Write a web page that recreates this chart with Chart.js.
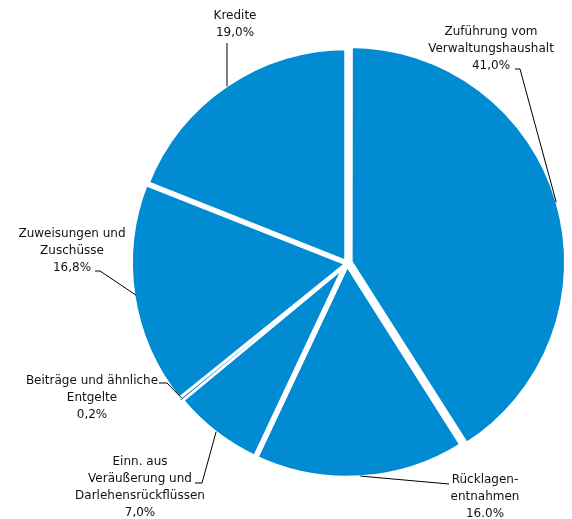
<!DOCTYPE html>
<html>
<head>
<meta charset="utf-8">
<script src="https://cdn.jsdelivr.net/npm/chart.js@4/dist/chart.umd.min.js"></script>
<style>
  html, body { margin: 0; padding: 0; background: #fff; }
  canvas { display: block; }
</style>
</head>
<body>
<canvas id="pie" width="572" height="519"></canvas>
<script>
// data, clockwise from 12 o'clock
const categories = [
  'Zuführung vom Verwaltungshaushalt',
  'Rücklagenentnahmen',
  'Einn. aus Veräußerung und Darlehensrückflüssen',
  'Beiträge und ähnliche Entgelte',
  'Zuweisungen und Zuschüsse',
  'Kredite'
];
const shares = [41.0, 16.0, 7.0, 0.2, 16.8, 19.0];
const shareTexts = ['41,0%', '16.0%', '7,0%', '0,2%', '16,8%', '19,0%'];
const labelLines = [
  ['Zuführung vom', 'Verwaltungshaushalt'],
  ['Rücklagen-', 'entnahmen'],
  ['Einn. aus', 'Veräußerung und', 'Darlehensrückflüssen'],
  ['Beiträge und ähnliche', 'Entgelte'],
  ['Zuweisungen und', 'Zuschüsse'],
  ['Kredite']
];

const BLUE = '#008BD2';
const TEXT = '#111111';

// where each label sits, and the bend of its leader line (label side first)
const labelLayout = [
  { x: 491, y: 32, path: [[515, 69], [520, 69]] },
  { x: 485, y: 480, path: [[449, 484]] },
  { x: 140, y: 462, path: [[195, 483], [202, 483]] },
  { x: 92, y: 381, path: [[159, 383], [167, 383]] },
  { x: 72, y: 233.5, path: [[95, 271], [100, 271]] },
  { x: 235, y: 16, path: [[227, 43]] }
];

const outsideLabels = {
  id: 'outsideLabels',
  afterDatasetsDraw(chart) {
    const ctx = chart.ctx;
    const meta = chart.getDatasetMeta(0);
    ctx.save();
    meta.data.forEach((arc, i) => {
      const lay = labelLayout[i];
      if (!lay) return;
      const { x, y, startAngle, endAngle, outerRadius, circumference } =
        arc.getProps(['x', 'y', 'startAngle', 'endAngle', 'outerRadius', 'circumference'], true);
      const mid = (startAngle + endAngle) / 2;
      // same shift Chart.js applies for offset arcs
      const off = (arc.options.offset || 0) / 4;
      const fix = 1 - Math.sin(Math.min(Math.PI, circumference || 0));
      const shift = off + off * fix;
      const r = outerRadius - 2 + shift;
      const ax = x + Math.cos(mid) * r;
      const ay = y + Math.sin(mid) * r;

      ctx.strokeStyle = '#000';
      ctx.lineWidth = 1;
      ctx.beginPath();
      lay.path.forEach((p, k) => {
        if (k === 0) ctx.moveTo(p[0], p[1]);
        else ctx.lineTo(p[0], p[1]);
      });
      ctx.lineTo(ax, ay);
      ctx.stroke();

      ctx.fillStyle = TEXT;
      ctx.font = '12px "DejaVu Sans", sans-serif';
      ctx.textAlign = 'center';
      ctx.textBaseline = 'middle';
      const lines = labelLines[i].concat([shareTexts[i]]);
      lines.forEach((t, k) => ctx.fillText(t, lay.x, lay.y + k * 17));
    });
    ctx.restore();
  }
};

new Chart(document.getElementById('pie').getContext('2d'), {
  type: 'pie',
  data: {
    labels: categories,
    datasets: [
      {
        data: shares,
        backgroundColor: BLUE,
        borderColor: '#ffffff',
        borderWidth: [5.5, 5.5, 5.5, 0, 3, 5.5],
        offset: [12, 0, 0, 0, 0, 0],
        hoverOffset: 0
      }
    ]
  },
  options: {
    responsive: false,
    animation: false,
    radius: 215.5,
    layout: { padding: { left: 122, right: 0, top: 7, bottom: 0 } },
    plugins: {
      legend: { display: false },
      tooltip: { enabled: false }
    },
    events: []
  },
  plugins: [outsideLabels]
});
</script>
</body>
</html>
